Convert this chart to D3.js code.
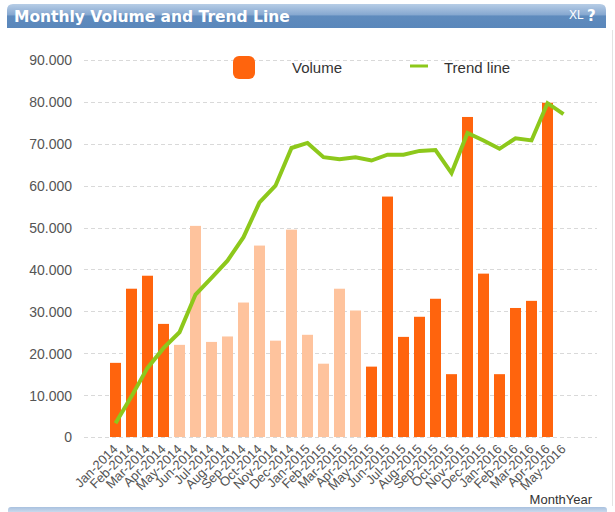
<!DOCTYPE html>
<html><head><meta charset="utf-8">
<script src="https://cdn.jsdelivr.net/npm/d3@7"></script>
<style>html,body{margin:0;padding:0;background:#fff;}svg{display:block;}</style>
</head><body>
<script>
const months = ["Jan-2014","Feb-2014","Mar-2014","Apr-2014","May-2014","Jun-2014","Jul-2014","Aug-2014","Sep-2014","Oct-2014","Nov-2014","Dec-2014",
"Jan-2015","Feb-2015","Mar-2015","Apr-2015","May-2015","Jun-2015","Jul-2015","Aug-2015","Sep-2015","Oct-2015","Nov-2015","Dec-2015",
"Jan-2016","Feb-2016","Mar-2016","Apr-2016","May-2016"];
const volume = [17700,35400,38500,27000,22000,50400,22700,24000,32100,45700,23000,49500,
24400,17500,35400,30200,16800,57400,23900,28700,33000,15000,76400,39000,
15000,30800,32500,79800,null];
const highlighted = [true,true,true,true,false,false,false,false,false,false,false,false,
false,false,false,false,true,true,true,true,true,true,true,true,
true,true,true,true,true];
const trend = [3300,9700,16500,21200,25000,34000,38000,42100,47700,56000,60000,69000,
70200,66800,66300,66800,66000,67400,67400,68300,68500,63000,72600,70800,
68800,71300,70800,79700,77100];
const yTicks = [0,10000,20000,30000,40000,50000,60000,70000,80000,90000];
const title = "Monthly Volume and Trend Line";
const xTitle = "MonthYear";
const legendLabels = ["Volume","Trend line"];

const W=615,H=512;
const darkOrange="#ff640d", lightOrange="#fec39d", green="#8dc81b";
const svg=d3.select("body").append("svg").attr("width",W).attr("height",H);
const defs=svg.append("defs");
const g1=defs.append("linearGradient").attr("id","tg").attr("x1",0).attr("y1",0).attr("x2",0).attr("y2",1);
g1.append("stop").attr("offset","0%").attr("stop-color","#b7cde6");
g1.append("stop").attr("offset","45%").attr("stop-color","#86a8d0");
g1.append("stop").attr("offset","50%").attr("stop-color","#5f8bbd");
g1.append("stop").attr("offset","100%").attr("stop-color","#5a87bb");
const g2=defs.append("linearGradient").attr("id","bg").attr("x1",0).attr("y1",0).attr("x2",0).attr("y2",1);
g2.append("stop").attr("offset","0%").attr("stop-color","#a9c1df");
g2.append("stop").attr("offset","100%").attr("stop-color","#c9d9ec");

// title bar
svg.append("path").attr("fill","url(#tg)")
  .attr("d","M7,28 L7,10 Q7,4 13,4 L600,4 Q606,4 606,10 L606,28 Z");
svg.append("text").attr("x",14).attr("y",22).attr("fill","#fff")
  .attr("font-family","DejaVu Sans, Verdana, sans-serif").attr("font-weight","bold").attr("font-size","15.5px")
  .text(title);
svg.append("text").attr("x",569).attr("y",19).attr("fill","#fff")
  .attr("font-family","Liberation Sans Narrow, Liberation Sans, Arial").attr("font-size","12px").text("XL");
svg.append("text").attr("x",587).attr("y",21).attr("fill","#fff")
  .attr("font-family","DejaVu Sans, sans-serif").attr("font-weight","bold").attr("font-size","15px").text("?");
// right frame line
svg.append("line").attr("x1",612.5).attr("x2",612.5).attr("y1",30).attr("y2",506).attr("stroke","#e3e3e3");
// bottom bar
svg.append("path").attr("fill","url(#bg)")
  .attr("d","M8,512 L8,510 Q8,507 11,507 L604,507 Q607,507 607,510 L607,512 Z");

const x=d3.scaleBand().domain(months).range([107.5,571.5]).paddingInner(0.3125).paddingOuter(0.15625);
const y=d3.scaleLinear().domain([0,90000]).range([437,60]);
const loc=d3.formatLocale({decimal:",",thousands:".",grouping:[3],currency:["",""]});
const fmt=loc.format(",");

// grid
const grid=svg.append("g");
grid.selectAll("line").data(yTicks).join("line")
  .attr("x1",84).attr("x2",597).attr("y1",d=>Math.round(y(d))+0.5).attr("y2",d=>Math.round(y(d))+0.5)
  .attr("stroke","#d9d9d9").attr("stroke-dasharray","4,3");
// y axis
const yAxis=svg.append("g").attr("transform","translate(72,0)")
  .call(d3.axisLeft(y).tickValues(yTicks).tickFormat(fmt).tickSize(0).tickPadding(0));
yAxis.select(".domain").remove();
yAxis.selectAll("text").attr("font-family","Liberation Sans, Arial, sans-serif").attr("font-size","14px").attr("fill","#555").attr("dy","0.35em");

// bars
svg.append("g").selectAll("rect").data(months.map((m,i)=>({m,v:volume[i],h:highlighted[i]})).filter(d=>d.v!=null)).join("rect")
  .attr("x",d=>x(d.m)).attr("width",x.bandwidth())
  .attr("y",d=>y(d.v)).attr("height",d=>y(0)-y(d.v))
  .attr("fill",d=>d.h?darkOrange:lightOrange);

// trend line
const line=d3.line().x((d,i)=>x(months[i])+x.bandwidth()/2).y(d=>y(d));
svg.append("path").datum(trend).attr("d",line).attr("fill","none").attr("stroke",green)
  .attr("stroke-width",4).attr("stroke-linejoin","miter");

// x axis labels
const xAxis=svg.append("g").attr("transform","translate(0,440)")
  .call(d3.axisBottom(x).tickSize(0).tickPadding(0));
xAxis.select(".domain").remove();
xAxis.selectAll("text").attr("font-family","Liberation Sans, Arial, sans-serif").attr("font-size","13px").attr("fill","#555")
  .attr("text-anchor","end").attr("dy",0).attr("y",0)
  .attr("transform","translate(3,10) rotate(-45)");

svg.append("text").attr("x",592).attr("y",504).attr("text-anchor","end")
  .attr("font-family","Liberation Sans, Arial, sans-serif").attr("font-size","13px").attr("fill","#333").text(xTitle);

// legend
svg.append("rect").attr("x",233).attr("y",56).attr("width",22).attr("height",23).attr("rx",6).attr("fill",darkOrange);
svg.append("text").attr("x",292).attr("y",73).attr("font-family","Liberation Sans, Arial, sans-serif").attr("font-size","15px").attr("fill","#333").text(legendLabels[0]);
svg.append("line").attr("x1",410).attr("x2",428).attr("y1",66).attr("y2",66).attr("stroke",green).attr("stroke-width",3);
svg.append("text").attr("x",444).attr("y",73).attr("font-family","Liberation Sans, Arial, sans-serif").attr("font-size","15px").attr("fill","#333").text(legendLabels[1]);
</script>
</body></html>
